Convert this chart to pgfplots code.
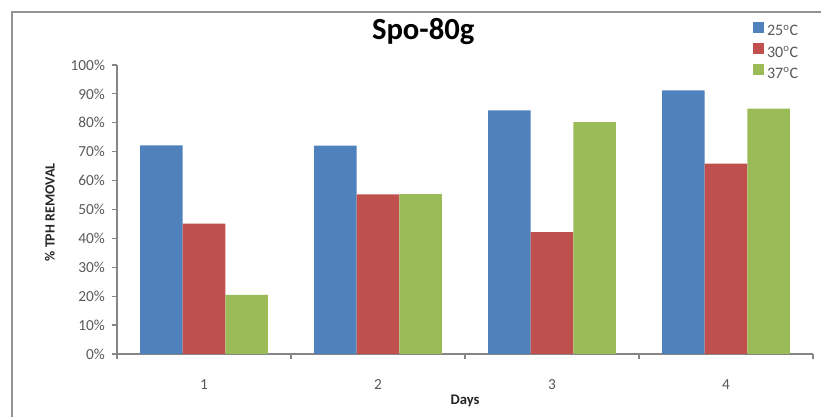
\documentclass[border=0pt]{standalone}
\usepackage{fontspec}
\setmainfont{Carlito}
\usepackage{pgfplots}
\pgfplotsset{compat=1.18}
\definecolor{cblue}{HTML}{4F81BD}
\definecolor{cred}{HTML}{C0504D}
\definecolor{cgreen}{HTML}{9BBB59}
\definecolor{axgray}{HTML}{868686}
\definecolor{txtgray}{HTML}{595959}
\begin{document}
\begin{tikzpicture}[x=0.75pt,y=0.75pt]
\useasboundingbox (-117,-63) rectangle (704,354);
\draw[line width=2.2pt, color=gray!85] (-105,-63) -- (-105,342) -- (704,342);
\begin{axis}[
  at={(0,0)}, anchor=origin,
  scale only axis, width=522pt, height=216.75pt,
  ybar=0pt, bar width=0.245,
  xmin=0.5, xmax=4.5, ymin=0, ymax=100,
  axis x line*=bottom, axis y line*=left,
  axis line style={color=axgray, line width=0.9pt},
  xtick={1,2,3,4}, xticklabels={1,2,3,4},
  major x tick style={draw=none},
  minor xtick={0.5,1.5,2.5,3.5,4.5},
  minor tick length=4pt,
  minor x tick style={color=axgray, line width=0.9pt},
  ytick={0,10,...,100},
  major tick length=4pt,
  tick align=outside,
  y tick style={color=axgray, line width=0.9pt},
  /pgf/number format/assume math mode=true,
  yticklabel={\pgfmathprintnumber{\tick}\%},
  ticklabel style={font=\fontsize{11.5}{12}\selectfont, color=txtgray},
  yticklabel style={xshift=-1.5pt},
  xticklabel style={anchor=base, yshift=-23pt},
  xlabel={\textbf{Days}},
  xlabel style={font=\fontsize{11}{12}\selectfont, color=black!85, at={(0.5,0)}, anchor=base, yshift=-38pt},
  ylabel={\textbf{\% TPH REMOVAL}},
  ylabel style={font=\fontsize{10.5}{12}\selectfont, color=black!85, at={(-0.0963,0.49)}, anchor=center},
  title={\textbf{Spo-80g}},
  title style={font=\fontsize{23}{26}\selectfont, at={(0.440,1.0)}, anchor=base, yshift=13pt},
  legend style={at={(0.914,1.15)}, anchor=north west, draw=none, fill=none,
    font=\fontsize{12}{13}\selectfont, text=txtgray, row sep=3.9pt,
    inner sep=0pt, nodes={inner sep=0pt, text height=8.5pt, text depth=1.5pt}},
  legend image code/.code={\fill[#1] (0pt,-1.2pt) rectangle (8.25pt,7.05pt);},
  legend cell align=left,
  clip=false,
]
\addplot[fill=cblue, draw=none] coordinates {(1,72.2) (2,72.1) (3,84.3) (4,91.2)};
\addplot[fill=cred, draw=none] coordinates {(1,45.1) (2,55.2) (3,42.2) (4,65.9)};
\addplot[fill=cgreen, draw=none] coordinates {(1,20.5) (2,55.3) (3,80.2) (4,84.9)};
\legend{\,25\textsuperscript{o}C,\,30\textsuperscript{o}C,\,37\textsuperscript{o}C}
\end{axis}
\end{tikzpicture}
\end{document}
